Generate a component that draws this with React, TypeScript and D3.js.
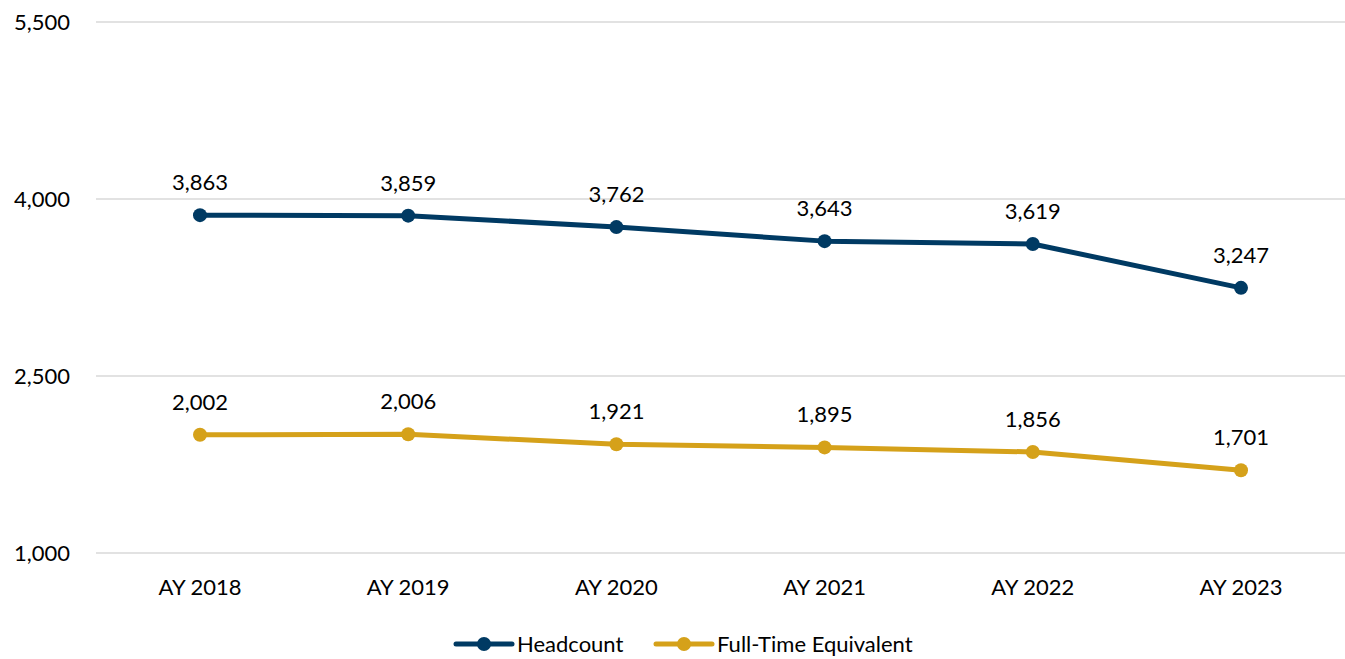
import React from "react";
import * as d3 from "d3";

const categories = ["AY 2018", "AY 2019", "AY 2020", "AY 2021", "AY 2022", "AY 2023"];
const headcount = [3863, 3859, 3762, 3643, 3619, 3247];
const fte = [2002, 2006, 1921, 1895, 1856, 1701];
const yTicks = [1000, 2500, 4000, 5500];
const seriesNames = ["Headcount", "Full-Time Equivalent"];
const colors = ["#003A63", "#D5A11A"];

const W = 1345;
const H = 659;
const FONT = "Lato, 'Open Sans', sans-serif";

export default function App() {
  const x = d3.scalePoint<string>().domain(categories).range([200, 1241]);
  const y = d3.scaleLinear().domain([1000, 5500]).range([553, 22]);
  const line = d3
    .line<number>()
    .x((_, i) => x(categories[i]) as number)
    .y((d) => y(d));
  const fmt = d3.format(",");
  const series = [headcount, fte];

  return (
    <svg
      width={W}
      height={H}
      style={{ position: "absolute", left: 0, top: 0, background: "#fff" }}
      fontFamily={FONT}
    >
      {yTicks.map((t) => (
        <g key={t}>
          <line x1={96} x2={1345} y1={y(t)} y2={y(t)} stroke="#d9d9d9" strokeWidth={1.5} />
          <text x={70} y={y(t) + 8} textAnchor="end" fontSize={22} fill="#000">
            {fmt(t)}
          </text>
        </g>
      ))}
      {categories.map((c) => (
        <text key={c} x={x(c)} y={595} textAnchor="middle" fontSize={22} fill="#000">
          {c}
        </text>
      ))}
      {series.map((s, si) => (
        <g key={si}>
          <path d={line(s) || ""} fill="none" stroke={colors[si]} strokeWidth={5} strokeLinejoin="round" />
          {s.map((v, i) => (
            <g key={i}>
              <circle cx={x(categories[i])} cy={y(v)} r={7} fill={colors[si]} />
              <text x={x(categories[i])} y={y(v) - 25} textAnchor="middle" fontSize={22} fill="#000">
                {fmt(v)}
              </text>
            </g>
          ))}
        </g>
      ))}
      {seriesNames.map((n, i) => {
        const x0 = 456 + i * 200;
        return (
          <g key={n}>
            <line x1={x0} x2={x0 + 56} y1={644} y2={644} stroke={colors[i]} strokeWidth={5} strokeLinecap="round" />
            <circle cx={x0 + 28} cy={644} r={7} fill={colors[i]} />
            <text x={x0 + 61} y={652} fontSize={22} fill="#000">
              {n}
            </text>
          </g>
        );
      })}
    </svg>
  );
}
